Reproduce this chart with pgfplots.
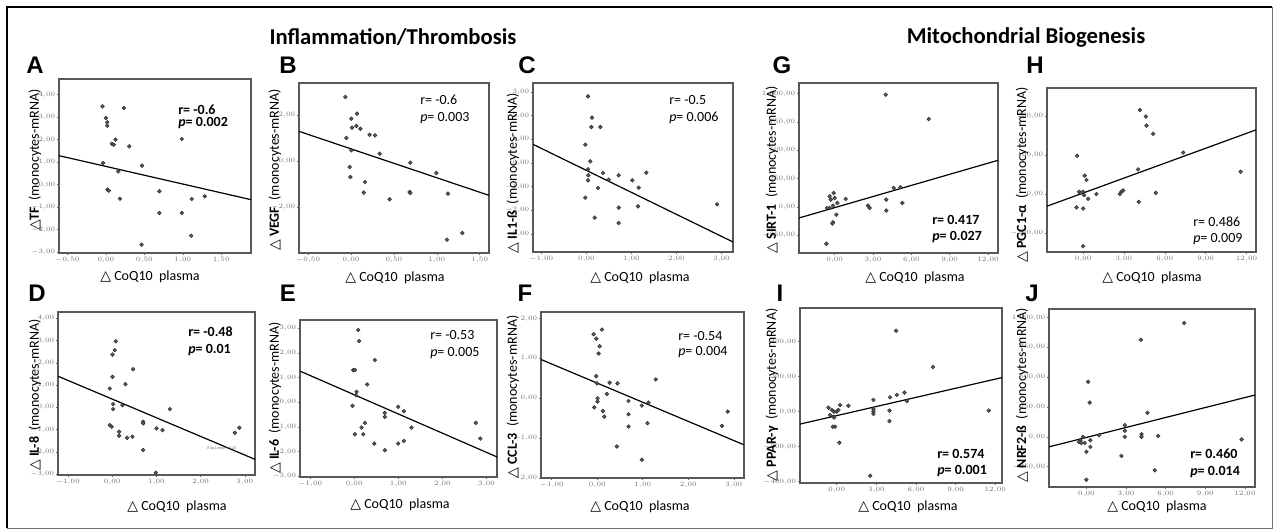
\documentclass[border=0pt]{standalone}
\usepackage{pgfplots}
\pgfplotsset{compat=1.18}
\usepackage{fontspec}
\setmainfont{Carlito}
\newfontfamily\arialf{Liberation Sans}
\newfontfamily\dejavu{DejaVu Sans}
\newcommand{\tri}{{\dejavu\symbol{"25B3}}}
\pgfplotsset{
 panel/.style={scale only axis, anchor=south west,
   axis line style={draw=black!65, line width=0.8pt},
   tick align=outside, tick pos=left, major tick length=1.6pt,
   tick style={black!60, line width=0.4pt},
   tick label style={font=\fontsize{2.4}{2.4}\selectfont, text=black!55, inner sep=1pt},
   /pgf/number format/.cd, use comma, fixed, fixed zerofill, precision=2, 1000 sep={.}},
 pts/.style={only marks, mark=*, mark size=1.45pt, mark options={fill=black!65, draw=black!85, line width=0.3pt}},
 fitl/.style={black, line width=0.9pt, no marks}
}
\begin{document}
\begin{tikzpicture}
% ---------------- A
\begin{axis}[panel, at={(44.25pt,-189.75pt)}, width=144pt, height=130.5pt,
  xmin=-0.609, xmax=1.887, ymin=-3.033, ymax=4.689,
  xtick={-0.5,0,0.5,1,1.5}, ytick={-3,-2,...,4}]
\addplot[pts] coordinates {(-0.043,3.476)(0.235,3.402)(0,2.959)(0.017,2.766)(0.017,2.618)(0.126,1.997)(0.078,1.820)(0.104,1.775)(0.304,1.701)(0.987,2.027)(-0.035,0.962)(0.470,0.843)(0.161,0.592)(0.022,-0.222)(0.039,-0.266)(0.183,-0.621)(0.696,-0.296)(0.696,-1.257)(0.987,-1.257)(1.117,-0.636)(1.287,-0.518)(0.465,-2.663)(1.109,-2.263)};
\addplot[fitl] coordinates {(-0.609,1.287)(1.887,-0.666)};
\end{axis}
% ---------------- B
\begin{axis}[panel, at={(224.25pt,-189.75pt)}, width=142.5pt, height=127.5pt,
  xmin=-0.606, xmax=1.608, ymin=-3.997, ymax=3.416,
  xtick={-0.5,0,0.5,1,1.5}, ytick={-4,-2,0,2}]
\addplot[pts] coordinates {(-0.066,2.805)(0.004,1.860)(0.070,2.078)(0.012,1.468)(0.062,1.541)(0.109,1.424)(-0.054,1.017)(0.217,1.163)(0.280,1.134)(0.004,0.480)(0.334,0.334)(-0.016,-0.247)(0.691,-0.058)(-0.008,-0.683)(0.163,-0.901)(0.148,-1.366)(0.683,-1.337)(0.691,-1.381)(0.450,-1.657)(0.994,-0.509)(1.130,-1.410)(1.118,-3.416)(1.297,-3.125)};
\addplot[fitl] coordinates {(-0.606,1.308)(1.608,-1.483)};
\end{axis}
% ---------------- C
\begin{axis}[panel, at={(399.75pt,-189pt)}, width=150pt, height=126.75pt,
  xmin=-1.185, xmax=3.259, ymin=-3.761, ymax=3.380,
  xtick={-1,0,1,2,3}, ytick={-3,-2,...,3}]
\addplot[pts] coordinates {(0.037,2.817)(0.126,1.915)(0.111,1.521)(0.311,1.521)(-0.022,0.775)(0.089,0.070)(0.037,-0.268)(0.044,-0.521)(0.037,-0.732)(0.370,-0.423)(0.496,-0.704)(0.259,-1.056)(0.719,-0.521)(1.022,-0.732)(1.163,-1.042)(1.333,-0.408)(-0.022,-1.465)(0.719,-1.887)(1.148,-1.831)(0.185,-2.310)(0.719,-2.535)(2.904,-1.746)};
\addplot[fitl] coordinates {(-1.185,0.789)(3.259,-3.338)};
\end{axis}
% ---------------- G
\begin{axis}[panel, at={(599.25pt,-189.75pt)}, width=149.25pt, height=127.5pt,
  xmin=-2.79, xmax=12.78, ymin=-406, ymax=1094,
  xtick={0,3,...,12}, ytick={-250,0,...,1000}]
\addplot[pts] coordinates {(3.99,991)(7.36,776)(-0.08,124)(-0.39,94)(-0.31,65)(0,79)(0.21,35)(-0.13,12)(-0.39,-9)(-0.60,-9)(0.86,71)(2.61,12)(2.74,-9)(4.04,65)(5.30,35)(4.04,-32)(4.62,168)(5.14,174)(0.13,-68)(-0.13,-135)(-0.18,-147)(-0.65,-324)};
\addplot[fitl] coordinates {(-2.79,-97)(12.78,412)};
\end{axis}
% ---------------- H
\begin{axis}[panel, at={(785.25pt,-189pt)}, width=156.75pt, height=123pt,
  xmin=-2.65, xmax=12.70, ymin=-148, ymax=271,
  xtick={0,3,...,12}, ytick={-100,0,100,200}]
\addplot[pts] coordinates {(4.17,215)(4.61,198)(4.66,175)(5.15,154)(7.35,106)(-0.44,98)(0.12,47)(0.25,36)(4.04,63)(11.57,57)(-0.29,6)(-0.17,3)(0,6)(0.07,-3)(0.37,-12)(0.98,0)(2.70,0)(2.82,6)(2.94,9)(4.09,-20)(5.34,3)(-0.49,-34)(0,-37)(0,-133)};
\addplot[fitl] coordinates {(-2.65,-31)(12.70,164)};
\end{axis}
% ---------------- D
\begin{axis}[panel, at={(43.5pt,-356.25pt)}, width=147.75pt, height=122.25pt,
  xmin=-1.223, xmax=3.230, ymin=-3.030, ymax=4.284,
  xtick={-1,0,1,2,3}, ytick={-3,-2,...,4}]
\addplot[pts] coordinates {(0.083,2.970)(0.060,2.567)(0.008,2.373)(0.475,1.716)(0.008,1.373)(0.302,1.045)(-0.053,0.851)(0.023,0.149)(0.023,-0.075)(0.234,0.104)(1.306,-0.075)(-0.053,-0.791)(-0.008,-0.866)(0.158,-1.090)(0.158,-1.269)(0.340,-1.358)(0.460,-1.313)(0.702,-0.642)(0.702,-0.716)(1.004,-0.940)(1.140,-1.015)(0.702,-1.910)(0.989,-2.925)(2.777,-1.134)(2.875,-0.910)};
\addplot[fitl] coordinates {(-1.223,1.403)(3.230,-2.328)};
\end{axis}
% ---------------- E
\begin{axis}[panel, at={(225pt,-357.75pt)}, width=147.75pt, height=117.75pt,
  xmin=-1.230, xmax=3.238, ymin=-3.035, ymax=3.333,
  xtick={-1,0,1,2,3}, ytick={-3,-2,...,3}]
\addplot[pts] coordinates {(0.091,2.927)(0.113,2.480)(0.468,1.707)(-0.023,1.301)(0.015,1.301)(0.294,0.718)(0.053,0.420)(0.038,0.285)(-0.038,-0.149)(0.996,-0.190)(1.125,-0.366)(0.694,-0.434)(0.694,-0.596)(0.242,-0.840)(0.166,-1.030)(0.204,-1.301)(0.015,-1.301)(1.298,-1.030)(0.453,-1.680)(0.694,-1.951)(0.996,-1.680)(1.125,-1.572)(2.755,-0.840)(2.860,-1.477)};
\addplot[fitl] coordinates {(-1.230,1.260)(3.238,-2.222)};
\end{axis}
% ---------------- F
\begin{axis}[panel, at={(405.75pt,-358.5pt)}, width=152.25pt, height=124.5pt,
  xmin=-1.236, xmax=3.225, ymin=-2.0, ymax=2.167,
  xtick={-1,0,1,2,3}, ytick={-2,-1,...,2}]
\addplot[pts] coordinates {(-0.080,1.608)(0.102,1.725)(-0.022,1.500)(0.051,1.308)(0.029,1.125)(-0.022,0.558)(-0.007,0.375)(0.271,0.392)(0.446,0.375)(0.212,0.108)(0.007,0)(0.007,-0.083)(-0.066,-0.225)(0.124,-0.317)(0.154,-0.458)(0.687,-0.067)(0.687,-0.400)(0.687,-0.708)(0.980,-0.183)(1.126,-0.108)(1.287,0.475)(1.104,-0.625)(0.431,-1.208)(0.980,-1.542)(2.742,-0.692)(2.867,-0.333)};
\addplot[fitl] coordinates {(-1.236,0.975)(3.225,-1.167)};
\end{axis}
% ---------------- I
\begin{axis}[panel, at={(600pt,-362.25pt)}, width=151.5pt, height=131.25pt,
  xmin=-2.78, xmax=12.51, ymin=-408, ymax=593,
  xtick={0,3,...,12}, ytick={-400,-200,...,400}]
\addplot[pts] coordinates {(4.50,463)(7.28,255)(-0.63,23)(-0.38,10)(-0.20,0)(0,0)(0.13,10)(0.25,38)(0.88,34)(-0.51,-19)(-0.25,-29)(-0.20,-33)(-0.30,-86)(-0.13,-86)(0.20,-178)(2.78,67)(2.78,15)(2.78,0)(2.78,-13)(4.04,82)(4.55,96)(5.13,109)(5.31,61)(3.99,6)(3.99,-54)(11.50,6)(2.53,-367)};
\addplot[fitl] coordinates {(-2.78,-71)(12.51,195)};
\end{axis}
% ---------------- J
\begin{axis}[panel, at={(786.75pt,-365.25pt)}, width=154.5pt, height=133.5pt,
  xmin=-2.83, xmax=12.76, ymin=-421, ymax=1073,
  xtick={0,3,...,12}, ytick={-250,0,...,1000}]
\addplot[pts] coordinates {(7.40,955)(4.12,815)(0.13,463)(0.25,287)(4.62,202)(2.91,98)(2.91,51)(2.91,0)(0.96,14)(4.17,22)(4.17,0)(5.43,8)(-0.25,0)(-0.45,-28)(-0.56,-42)(-0.38,-51)(-0.13,-51)(0.30,-28)(0.30,-84)(0,-126)(2.65,-160)(0,-360)(5.18,-281)(11.75,-22)};
\addplot[fitl] coordinates {(-2.83,-84)(12.76,351)};
\end{axis}
% ---------------- overlay texts
\begin{scope}[x=0.75pt,y=-0.75pt]
\path (0,0) rectangle (1275,531);
\draw[black, line width=1.6pt] (7,528) -- (7,7) -- (1272,7);
\draw[black!55, line width=0.6pt] (1272,7) -- (1272,528) -- (7,528);
% titles
\node[font=\bfseries\fontsize{17}{20}\selectfont] at (393,37) {Inflammation/Thrombosis};
\node[font=\bfseries\fontsize{17}{20}\selectfont] at (1026,37) {Mitochondrial Biogenesis};
% panel letters
\begin{scope}[every node/.style={font=\arialf\bfseries\fontsize{18}{20}\selectfont}]
\node at (35,65) {A}; \node at (288,65) {B}; \node at (527,65) {C};
\node at (782,65) {G}; \node at (1035,65) {H};
\node at (37,293) {D}; \node at (288,293) {E}; \node at (525,293) {F};
\node at (780,293) {I}; \node at (1032,293) {J};
\end{scope}
% x labels
\begin{scope}[every node/.style={font=\fontsize{10.5}{12}\selectfont}]
\node at (150,277) {\tri\ CoQ10\ \ plasma};
\node at (395,278) {\tri\ CoQ10\ \ plasma};
\node at (640,278) {\tri\ CoQ10\ \ plasma};
\node at (915,278) {\tri\ CoQ10\ \ plasma};
\node at (1152,278) {\tri\ CoQ10\ \ plasma};
\node at (177,507) {\tri\ CoQ10\ \ plasma};
\node at (400,505) {\tri\ CoQ10\ \ plasma};
\node at (640,507) {\tri\ CoQ10\ \ plasma};
\node at (908,507) {\tri\ CoQ10\ \ plasma};
\node at (1157,507) {\tri\ CoQ10\ \ plasma};
\end{scope}
% y labels
\begin{scope}[every node/.style={rotate=90, font=\fontsize{10.5}{12}\selectfont}]
\node at (35,160) {\tri\textbf{TF}\ \ (monocytes-mRNA)};
\node at (275,170) {\tri\ \textbf{VEGF}\ \ (monocytes-mRNA)};
\node at (513,173) {\tri\ \textbf{IL1-ß}\ \ (monocytes-mRNA)};
\node at (772,170) {\tri\ \textbf{SIRT-1}\ \ (monocytes-mRNA)};
\node at (1022,175) {\tri\ \textbf{PGC1-α}\ \ (monocytes-mRNA)};
\node at (35,395) {\tri\ \textbf{IL-8}\ \ (monocytes-mRNA)};
\node at (275,398) {\tri\ \textbf{IL-6}\ \ (monocytes-mRNA)};
\node at (513,397) {\tri\ \textbf{CCL-3}\ \ (monocytes-mRNA)};
\node at (772,395) {\tri\ \textbf{PPAR-γ}\ \ (monocytes-mRNA)};
\node at (1022,395) {\tri\ \textbf{NRF2-ß}\ \ (monocytes-mRNA)};
\end{scope}
% r / p
\begin{scope}[every node/.style={anchor=west, font=\fontsize{10.5}{12}\selectfont, inner sep=0pt}]
\node[font=\bfseries\fontsize{10.5}{12}\selectfont] at (178,110) {r= -0.6};
\node[font=\bfseries\fontsize{10.5}{12}\selectfont] at (178,123) {\textit{p}= 0.002};
\node at (420,100) {r= -0.6}; \node at (420,118) {\textit{p}= 0.003};
\node at (669,100) {r= -0.5}; \node at (669,118) {\textit{p}= 0.006};
\node[font=\bfseries\fontsize{10.5}{12}\selectfont] at (932,220) {r= 0.417};
\node[font=\bfseries\fontsize{10.5}{12}\selectfont] at (932,237) {\textit{p}= 0.027};
\node at (1193,222) {r= 0.486}; \node at (1193,239) {\textit{p}= 0.009};
\node[font=\bfseries\fontsize{10.5}{12}\selectfont] at (188,332) {r= -0.48};
\node[font=\bfseries\fontsize{10.5}{12}\selectfont] at (188,350) {\textit{p}= 0.01};
\node at (430,335) {r= -0.53}; \node at (430,353) {\textit{p}= 0.005};
\node at (678,336) {r= -0.54}; \node at (678,352) {\textit{p}= 0.004};
\node[font=\bfseries\fontsize{10.5}{12}\selectfont] at (937,454) {r= 0.574};
\node[font=\bfseries\fontsize{10.5}{12}\selectfont] at (937,471) {\textit{p}= 0.001};
\node[font=\bfseries\fontsize{10.5}{12}\selectfont] at (1190,454) {r= 0.460};
\node[font=\bfseries\fontsize{10.5}{12}\selectfont] at (1190,472) {\textit{p}= 0.014};
\node[font=\fontsize{3}{3}\selectfont, text=black!60] at (207,448) {R Sq Linear = 0.23};
\end{scope}
\end{scope}
\end{tikzpicture}
\end{document}
